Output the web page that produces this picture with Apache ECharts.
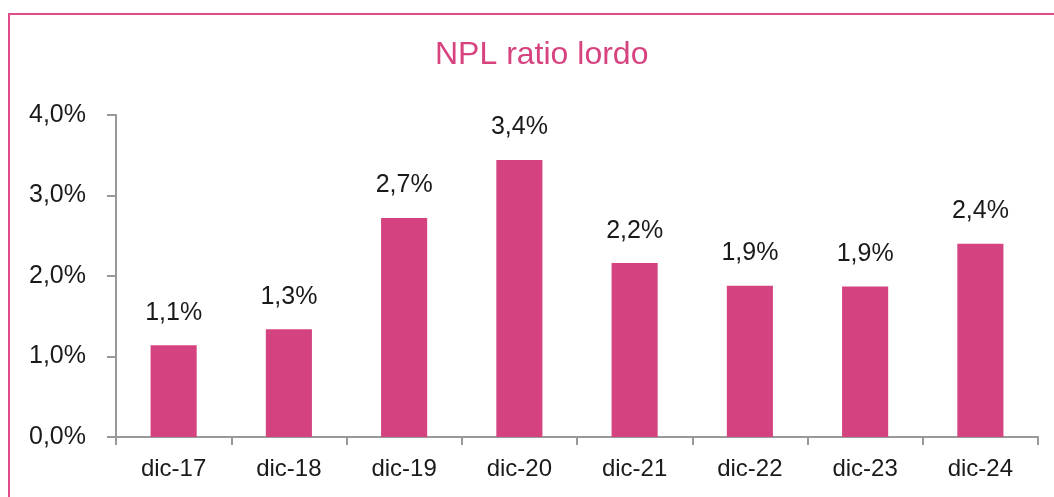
<!DOCTYPE html>
<html>
<head>
<meta charset="utf-8">
<script src="https://cdn.jsdelivr.net/npm/echarts@6/dist/echarts.min.js"></script>
<style>
html,body{margin:0;padding:0;background:#fff;}
#chart{width:1054px;height:497px;}
</style>
</head>
<body>
<div id="chart"></div>
<script>
var categories = ['dic-17', 'dic-18', 'dic-19', 'dic-20', 'dic-21', 'dic-22', 'dic-23', 'dic-24'];
var nplValues = [1.14, 1.34, 2.72, 3.44, 2.16, 1.88, 1.87, 2.40];
var yTicks = [0, 1, 2, 3, 4];

function pct(v){
	return v.toFixed(1).replace('.', ',') + '%';
}

var myChart = echarts.init(document.getElementById('chart'));
var option = {
	animation: false,
	backgroundColor: '#fff',
	textStyle: { fontFamily: 'Liberation Sans, Arial, sans-serif' },
	graphic: [
		{
			type: 'rect',
			shape: { x: 9, y: 14, width: 1200, height: 700 },
			style: { fill: 'none', stroke: '#DF4C8C', lineWidth: 2 },
			silent: true
		}
	],
	title: {
		text: 'NPL ratio lordo',
		left: 430,
		top: 34,
		textStyle: {
			color: '#D6437F',
			fontSize: 32,
			fontWeight: 'normal',
			fontFamily: 'Liberation Sans, Arial, sans-serif'
		}
	},
	grid: { left: 116, right: 16, top: 115, bottom: 60 },
	xAxis: {
		type: 'category',
		data: categories,
		axisLine: { lineStyle: { color: '#999', width: 2 } },
		axisTick: { show: true, length: 8, lineStyle: { color: '#999', width: 2 } },
		axisLabel: { color: '#1a1a1a', fontSize: 24, margin: 20 }
	},
	yAxis: {
		type: 'value',
		min: yTicks[0],
		max: yTicks[yTicks.length - 1],
		interval: 1,
		splitLine: { show: false },
		axisLine: { show: true, lineStyle: { color: '#999', width: 2 } },
		axisTick: { show: true, length: 9, lineStyle: { color: '#999', width: 2 } },
		axisLabel: {
			color: '#1a1a1a',
			fontSize: 25,
			margin: 30,
			formatter: function(v){ return pct(v); }
		}
	},
	series: [
		{
			name: 'NPL ratio lordo',
			type: 'bar',
			data: nplValues,
			barWidth: '40%',
			itemStyle: { color: '#D4437F' },
			label: {
				show: true,
				position: 'top',
				distance: 20,
				color: '#1a1a1a',
				fontSize: 25,
				formatter: function(p){ return pct(p.value); }
			}
		}
	]
};
myChart.setOption(option);
window.addEventListener('resize', function(){
	myChart.resize();
});
</script>
</body>
</html>
